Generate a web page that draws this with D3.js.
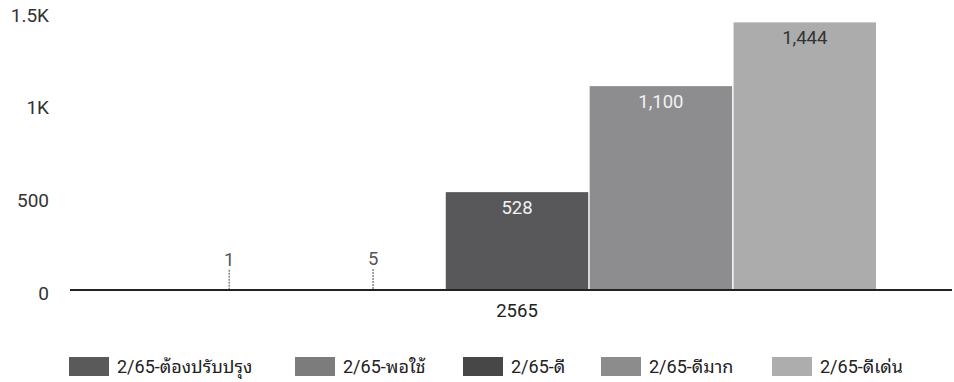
<!DOCTYPE html>
<html><head><meta charset="utf-8">
<script src="https://cdn.jsdelivr.net/npm/d3@7"></script>
<style>
body{margin:0;background:#fff;}
text{font-family:Roboto,"Noto Sans Thai Looped","Loma","Garuda","Noto Sans","Noto Sans Thai",sans-serif;}
</style></head>
<body><svg id="c" width="954" height="382"></svg>
<script>
const categories = ["2565"];
const seriesNames = ["2/65-ต้องปรับปรุง","2/65-พอใช้","2/65-ดี","2/65-ดีมาก","2/65-ดีเด่น"];
const seriesValues = [1, 5, 528, 1100, 1444];
const yTicks = [0, 500, 1000, 1500];
const yTickLabels = ["0","500","1K","1.5K"];
const colors = ["#5c5c5c","#7a7a7a","#58585a","#8d8d90","#acacac"];
const legendColors = ["#5a5a5a","#7c7c7c","#474747","#8c8c8c","#adadad"];
const labelColors = ["#555","#555","#f2f2f2","#f2f2f2","#333"];

const svg = d3.select("#c");
const baseY = 290;
const y = d3.scaleLinear().domain([0,1500]).range([baseY, 12]);
const x0 = d3.scaleBand().domain(categories).range([158, 876]);
const x1 = d3.scaleBand().domain(seriesNames).range([0, x0.bandwidth()]).paddingInner(0.01);

// y labels
svg.append("g").selectAll("text").data(yTicks).join("text")
  .attr("x", 49).attr("y", d => y(d)).attr("dy", "0.5em")
  .attr("text-anchor","end").attr("font-size", 19).attr("fill","#333")
  .text((d,i) => yTickLabels[i]);

const g = svg.append("g").selectAll("g").data(categories).join("g")
  .attr("transform", d => `translate(${x0(d)},0)`);

g.selectAll("rect").data(seriesValues).join("rect")
  .attr("x", (d,i) => x1(seriesNames[i]))
  .attr("width", x1.bandwidth())
  .attr("y", d => y(d))
  .attr("height", d => baseY - y(d))
  .attr("fill", (d,i) => colors[i]);

// value labels
g.selectAll("text.v").data(seriesValues).join("text").attr("class","v")
  .attr("x", (d,i) => x1(seriesNames[i]) + x1.bandwidth()/2)
  .attr("y", d => (baseY - y(d)) > 40 ? y(d) + 22 : y(d) - 24)
  .attr("text-anchor","middle").attr("font-size", 18.5)
  .attr("fill", (d,i) => labelColors[i])
  .text(d => d3.format(",")(d));

// leader lines for small values
g.selectAll("line.l").data(seriesValues.filter(d => baseY - y(d) <= 40)).join("line").attr("class","l")
  .attr("x1", (d,i) => x1(seriesNames[i]) + x1.bandwidth()/2)
  .attr("x2", (d,i) => x1(seriesNames[i]) + x1.bandwidth()/2)
  .attr("y1", d => y(d) - 20).attr("y2", d => y(d))
  .attr("stroke","#888").attr("stroke-width",1.5).attr("stroke-dasharray","2,1");

// axis baseline
svg.append("line").attr("x1",70).attr("x2",952).attr("y1",baseY).attr("y2",baseY)
  .attr("stroke","#222").attr("stroke-width",2);

// category label
svg.append("g").selectAll("text").data(categories).join("text")
  .attr("x", d => x0(d) + x0.bandwidth()/2).attr("y", 317)
  .attr("text-anchor","middle").attr("font-size",18.5).attr("fill","#222")
  .text(d => d);

// legend
const legX = [69, 295, 463, 601, 772];
const leg = svg.append("g").selectAll("g").data(seriesNames).join("g")
  .attr("transform", (d,i) => `translate(${legX[i]},357)`);
leg.append("rect").attr("width",40).attr("height",19).attr("fill",(d,i)=>legendColors[i]);
leg.append("text").attr("x",48).attr("y",9.5).attr("dy","0.35em")
  .attr("font-size",18).attr("fill","#222").text(d => d);
</script></body></html>
